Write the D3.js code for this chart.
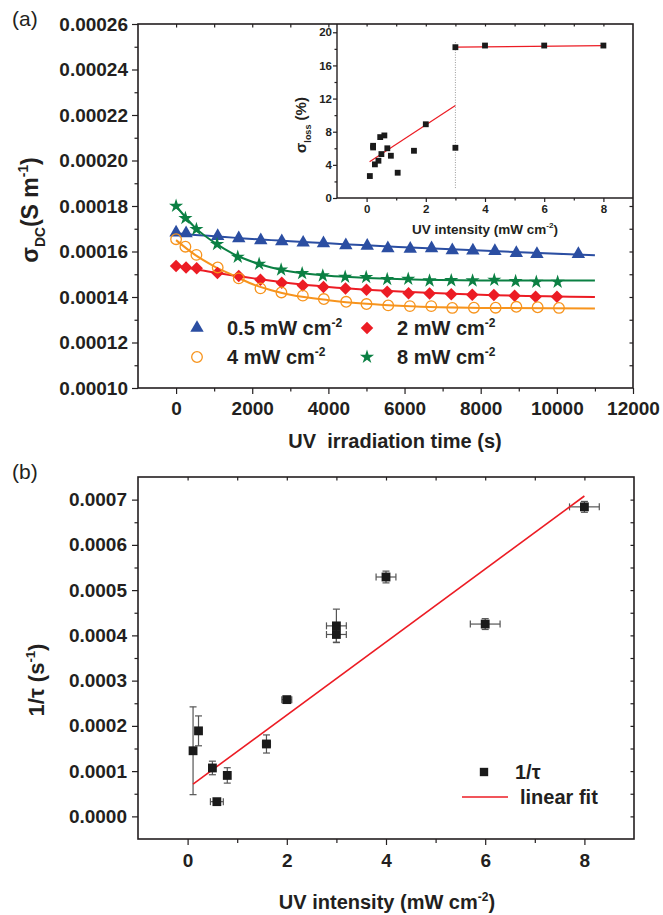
<!DOCTYPE html>
<html>
<head>
<meta charset="utf-8">
<script src="https://cdn.jsdelivr.net/npm/d3@7"></script>
<style>body{margin:0;background:#fff}</style>
</head>
<body>
<div id="chart"></div>
<script>
// ---- panel (a): sigma_DC vs irradiation time ----
var tBlue = [0, 263, 1093, 1646, 2224, 2776, 3338, 3871, 4458, 5020, 5562, 6150, 6710, 7254, 7795, 8373, 8936, 9477, 10565];
var vBlue = [1.683e-4, 1.680e-4, 1.668e-4, 1.658e-4, 1.649e-4, 1.645e-4, 1.639e-4, 1.636e-4, 1.627e-4, 1.625e-4, 1.614e-4, 1.612e-4, 1.614e-4, 1.605e-4, 1.604e-4, 1.602e-4, 1.593e-4, 1.589e-4, 1.589e-4];
var tRed = [0, 263, 542, 1086, 1646, 2216, 2776, 3329, 3871, 4449, 5001, 5545, 6105, 6657, 7227, 7779, 8347, 8891, 9443, 10003];
var vRed = [1.536e-4, 1.530e-4, 1.526e-4, 1.505e-4, 1.492e-4, 1.476e-4, 1.463e-4, 1.451e-4, 1.444e-4, 1.437e-4, 1.432e-4, 1.423e-4, 1.416e-4, 1.415e-4, 1.412e-4, 1.410e-4, 1.409e-4, 1.406e-4, 1.401e-4, 1.401e-4];
var tOrange = [0, 245, 534, 1093, 1646, 2216, 2767, 3329, 3880, 4467, 5001, 5571, 6140, 6702, 7254, 7822, 8392, 8936, 9496, 10056];
var vOrange = [1.654e-4, 1.621e-4, 1.585e-4, 1.530e-4, 1.482e-4, 1.438e-4, 1.420e-4, 1.406e-4, 1.391e-4, 1.379e-4, 1.369e-4, 1.363e-4, 1.360e-4, 1.360e-4, 1.352e-4, 1.353e-4, 1.353e-4, 1.357e-4, 1.355e-4, 1.352e-4];
var tGreen = [0, 245, 534, 1077, 1620, 2181, 2759, 3311, 3853, 4441, 4993, 5545, 6097, 6657, 7227, 7787, 8357, 8917, 9461, 10021];
var vGreen = [1.800e-4, 1.746e-4, 1.698e-4, 1.632e-4, 1.576e-4, 1.545e-4, 1.520e-4, 1.504e-4, 1.494e-4, 1.488e-4, 1.487e-4, 1.478e-4, 1.479e-4, 1.472e-4, 1.473e-4, 1.472e-4, 1.475e-4, 1.469e-4, 1.466e-4, 1.466e-4];

// fitted curves
var tFit = [0, 500, 1000, 1500, 2000, 2500, 3000, 4000, 5000, 6000, 8000, 11000];
var fitBlue = [1.680e-4, 1.673e-4, 1.667e-4, 1.661e-4, 1.655e-4, 1.650e-4, 1.645e-4, 1.636e-4, 1.627e-4, 1.619e-4, 1.604e-4, 1.583e-4];
var fitRed = [1.538e-4, 1.522e-4, 1.508e-4, 1.495e-4, 1.483e-4, 1.471e-4, 1.460e-4, 1.444e-4, 1.432e-4, 1.423e-4, 1.410e-4, 1.400e-4];
var fitOrange = [1.650e-4, 1.585e-4, 1.535e-4, 1.495e-4, 1.457e-4, 1.430e-4, 1.410e-4, 1.386e-4, 1.370e-4, 1.360e-4, 1.352e-4, 1.350e-4];
var fitGreen = [1.800e-4, 1.705e-4, 1.640e-4, 1.590e-4, 1.555e-4, 1.530e-4, 1.512e-4, 1.493e-4, 1.484e-4, 1.478e-4, 1.473e-4, 1.472e-4];

var legendA = ["0.5 mW cm", "2 mW cm", "4 mW cm", "8 mW cm"];

// ---- inset: sigma_loss vs UV intensity ----
var inX = [0.11, 0.22, 0.22, 0.28, 0.4, 0.46, 0.5, 0.6, 0.7, 0.82, 1.05, 1.6, 2.0, 3.0, 3.0, 4, 6, 8];
var inY = [2.65, 6.3, 6.1, 4.06, 4.5, 7.35, 5.3, 7.55, 6.0, 5.1, 3.05, 5.7, 8.9, 6.06, 18.2, 18.4, 18.4, 18.4];
var inFit1 = [[0.1, 4.37], [3, 11.17]];
var inFit2 = [[3, 18.2], [8, 18.4]];
var inDot = [[3, 1.2], [3, 18.8]];

// ---- panel (b): 1/tau vs UV intensity ----
var bX = [0.11, 0.22, 0.5, 0.59, 0.8, 1.59, 2.0, 3.0, 3.0, 4.0, 6.0, 8.0];
var bY = [0.000145, 0.000189, 0.000107, 0.0000325, 0.0000905, 0.00016, 0.000258, 0.000421, 0.000402, 0.000529, 0.000425, 0.000684];
var bYerr = [0.000097, 0.000033, 0.000015, 0, 0.000017, 0.00002, 0.000005, 0.000037, 0.000017, 0.000013, 0.000012, 0.000012];
var bXerr = [0, 0, 0.05, 0.13, 0.05, 0.08, 0.1, 0.2, 0.2, 0.2, 0.3, 0.3];
var bFit = [[0.11, 0.0000715], [8, 0.000708]];

var FONT = "Liberation Sans, Arial, Helvetica, sans-serif";
var ink = "#231f20";
var cBlue = "#2b4ea2", cRed = "#ec1c24", cOrange = "#f7941d", cGreen = "#0b8043";

var svg = d3.select("#chart").append("svg")
    .attr("width", 663)
    .attr("height", 915)
    .style("font-family", FONT);

function rich(t, parts, fs) {
    var shift = 0;
    parts.forEach(function (p) {
        var target = p[1] === "sup" ? -0.42 * fs : p[1] === "sub" ? 0.3 * fs : 0;
        t.append("tspan")
            .attr("dy", target - shift)
            .attr("font-size", p[1] ? fs * 0.6 : fs)
            .text(p[0]);
        shift = target;
    });
}

function styleAxis(g, fs) {
    g.select(".domain").remove();
    g.selectAll(".tick line").attr("stroke", ink).attr("stroke-width", 1.2);
    g.selectAll(".tick text")
        .attr("fill", ink)
        .attr("font-family", FONT)
        .attr("font-weight", "bold")
        .attr("font-size", fs);
}

function addAxis(gen, tx, ty, fs) {
    var g = svg.append("g").attr("transform", "translate(" + tx + "," + ty + ")").call(gen);
    styleAxis(g, fs);
    return g;
}

function frame(x0, y0, x1, y1) {
    svg.append("rect")
        .attr("x", x0).attr("y", y0)
        .attr("width", x1 - x0).attr("height", y1 - y0)
        .attr("fill", "none")
        .attr("stroke", ink)
        .attr("stroke-width", 1.6);
}

// ================= panel (a) =================
var ax = d3.scaleLinear().domain([-1000, 12000]).range([138, 633]);
var ay = d3.scaleLinear().domain([0.00010, 0.00026]).range([388, 24]);

addAxis(d3.axisBottom(ax).tickValues(d3.range(0, 12001, 2000)).tickSize(6).tickPadding(8).tickFormat(d3.format("d")), 0, 388, 19);
addAxis(d3.axisBottom(ax).tickValues(d3.range(1000, 12000, 2000)).tickSize(3.5).tickFormat(""), 0, 388, 19);
addAxis(d3.axisLeft(ay).tickValues(d3.range(10, 27, 2).map(function (d) { return d * 1e-5; })).tickSize(6).tickPadding(4).tickFormat(d3.format(".5f")), 138, 0, 19);
addAxis(d3.axisLeft(ay).tickValues(d3.range(11, 26, 2).map(function (d) { return d * 1e-5; })).tickSize(3.5).tickFormat(""), 138, 0, 19);
addAxis(d3.axisTop(ax).tickValues(d3.range(0, 5000, 1000)).tickSize(-3.5).tickFormat(""), 0, 24, 19);
addAxis(d3.axisRight(ay).tickValues(d3.range(11, 26, 1).map(function (d) { return d * 1e-5; })).tickSize(-3.5).tickFormat(""), 633, 0, 19);

var lineA = d3.line().curve(d3.curveMonotoneX)
    .x(function (d) { return ax(d[0]); })
    .y(function (d) { return ay(d[1]); });

var seriesA = [
    { t: tBlue, v: vBlue, fit: fitBlue, color: cBlue, kind: "tri" },
    { t: tRed, v: vRed, fit: fitRed, color: cRed, kind: "dia" },
    { t: tOrange, v: vOrange, fit: fitOrange, color: cOrange, kind: "circ" },
    { t: tGreen, v: vGreen, fit: fitGreen, color: cGreen, kind: "star" }
];

function marker(g, kind, color, x, y) {
    if (kind === "circ") {
        g.append("circle").attr("cx", x).attr("cy", y).attr("r", 5.3)
            .attr("fill", "none").attr("stroke", color).attr("stroke-width", 1.3);
        return;
    }
    var type = kind === "tri" ? d3.symbolTriangle : kind === "dia" ? d3.symbolSquare : d3.symbolStar;
    var size = kind === "tri" ? 78 : kind === "dia" ? 78 : 62;
    var rot = kind === "dia" ? " rotate(45)" : "";
    g.append("path")
        .attr("d", d3.symbol().type(type).size(size)())
        .attr("transform", "translate(" + x + "," + y + ")" + rot)
        .attr("fill", color);
}

seriesA.forEach(function (s) {
    svg.append("path")
        .attr("d", lineA(tFit.map(function (t, i) { return [t, s.fit[i]]; })))
        .attr("fill", "none")
        .attr("stroke", s.color)
        .attr("stroke-width", 2);
});
seriesA.forEach(function (s) {
    var g = svg.append("g");
    s.t.forEach(function (t, i) { marker(g, s.kind, s.color, ax(t), ay(s.v[i])); });
});

// legend (a)
var legPos = [[197, 328], [367, 328], [197, 357], [367, 357]];
seriesA.forEach(function (s, i) {
    var g = svg.append("g");
    marker(g, s.kind, s.color, legPos[i][0], legPos[i][1]);
    var t = svg.append("text")
        .attr("x", legPos[i][0] + 30)
        .attr("y", legPos[i][1] + 7)
        .attr("font-weight", "bold")
        .attr("fill", ink);
    rich(t, [[legendA[i], ""], ["-2", "sup"]], 20);
});

// ================= inset =================
var ix = d3.scaleLinear().domain([-1, 9]).range([337, 633]);
var iy = d3.scaleLinear().domain([0, 21]).range([198, 24]);

svg.append("rect").attr("x", 337).attr("y", 24).attr("width", 296).attr("height", 174).attr("fill", "#fff");
addAxis(d3.axisBottom(ix).tickValues([0, 2, 4, 6, 8]).tickSize(4).tickPadding(3).tickFormat(d3.format("d")), 0, 198, 11.5);
addAxis(d3.axisBottom(ix).tickValues([1, 3, 5, 7]).tickSize(2.5).tickFormat(""), 0, 198, 11.5);
addAxis(d3.axisLeft(iy).tickValues([0, 4, 8, 12, 16, 20]).tickSize(4).tickPadding(1).tickFormat(d3.format("d")), 337, 0, 11.5);
addAxis(d3.axisLeft(iy).tickValues([2, 6, 10, 14, 18]).tickSize(2.5).tickFormat(""), 337, 0, 11.5);
addAxis(d3.axisTop(ix).tickValues(d3.range(0, 9, 1)).tickSize(-2.5).tickFormat(""), 0, 24, 11.5);

var lineI = d3.line()
    .x(function (d) { return ix(d[0]); })
    .y(function (d) { return iy(d[1]); });

svg.append("path").attr("d", lineI(inDot)).attr("fill", "none")
    .attr("stroke", "#999").attr("stroke-width", 1).attr("stroke-dasharray", "1,1.5");
[inFit1, inFit2].forEach(function (f) {
    svg.append("path").attr("d", lineI(f)).attr("fill", "none")
        .attr("stroke", cRed).attr("stroke-width", 1.2);
});
svg.append("g").selectAll("path").data(inX).join("path")
    .attr("d", d3.symbol().type(d3.symbolSquare).size(34)())
    .attr("transform", function (d, i) { return "translate(" + ix(d) + "," + iy(inY[i]) + ")"; })
    .attr("fill", "#1a1a1a");

svg.append("line").attr("x1", 337).attr("x2", 337).attr("y1", 24).attr("y2", 198)
    .attr("stroke", ink).attr("stroke-width", 1.4);
svg.append("line").attr("x1", 337).attr("x2", 633).attr("y1", 198).attr("y2", 198)
    .attr("stroke", ink).attr("stroke-width", 1.4);

var itx = svg.append("text").attr("x", 485).attr("y", 234).attr("text-anchor", "middle")
    .attr("font-weight", "bold").attr("fill", ink);
rich(itx, [["UV intensity (mW cm", ""], ["-2", "sup"], [")", ""]], 13.5);
var ity = svg.append("text").attr("transform", "translate(306,125) rotate(-90)")
    .attr("text-anchor", "middle").attr("font-weight", "bold").attr("fill", ink);
rich(ity, [["σ", ""], ["loss", "sub"], [" (%)", ""]], 15);

frame(138, 24, 633, 388);

// titles (a)
svg.append("text").attr("x", 12).attr("y", 26).attr("font-size", 21).attr("fill", ink).text("(a)");
var atx = svg.append("text").attr("x", 395).attr("y", 448).attr("text-anchor", "middle")
    .attr("font-weight", "bold").attr("font-size", 20).attr("fill", ink)
    .attr("xml:space", "preserve").text("UV  irradiation time (s)");
var aty = svg.append("text").attr("transform", "translate(38,210) rotate(-90)")
    .attr("text-anchor", "middle").attr("font-weight", "bold").attr("fill", ink);
rich(aty, [["σ", ""], ["DC", "sub"], ["(S m", ""], ["-1", "sup"], [")", ""]], 23);

// ================= panel (b) =================
var bx = d3.scaleLinear().domain([-1, 9]).range([138, 634]);
var by = d3.scaleLinear().domain([-0.00005, 0.00075]).range([839, 477]);

addAxis(d3.axisBottom(bx).tickValues([0, 2, 4, 6, 8]).tickSize(6).tickPadding(9).tickFormat(d3.format("d")), 0, 839, 19);
addAxis(d3.axisBottom(bx).tickValues([1, 3, 5, 7]).tickSize(4).tickFormat(""), 0, 839, 19);
addAxis(d3.axisLeft(by).tickValues(d3.range(0, 8, 1).map(function (d) { return d * 1e-4; })).tickSize(6).tickPadding(5).tickFormat(d3.format(".4f")), 138, 0, 19);
addAxis(d3.axisLeft(by).tickValues(d3.range(0.5, 7, 1).map(function (d) { return d * 1e-4; })).tickSize(3.5).tickFormat(""), 138, 0, 19);
addAxis(d3.axisTop(bx).tickValues(d3.range(0, 9, 1)).tickSize(-3.5).tickFormat(""), 0, 477, 19);
addAxis(d3.axisRight(by).tickValues(d3.range(0, 15, 1).map(function (d) { return d * 0.5e-4; })).tickSize(-3.5).tickFormat(""), 634, 0, 19);

var lineB = d3.line()
    .x(function (d) { return bx(d[0]); })
    .y(function (d) { return by(d[1]); });

// error bars
var eg = svg.append("g").attr("stroke", "#555").attr("stroke-width", 1.2).attr("fill", "none");
bX.forEach(function (x, i) {
    var cx = bx(x), cy = by(bY[i]);
    if (bYerr[i] > 0) {
        var y1 = by(bY[i] + bYerr[i]), y2 = by(bY[i] - bYerr[i]);
        eg.append("line").attr("x1", cx).attr("x2", cx).attr("y1", y1).attr("y2", y2);
        eg.append("line").attr("x1", cx - 3.5).attr("x2", cx + 3.5).attr("y1", y1).attr("y2", y1);
        eg.append("line").attr("x1", cx - 3.5).attr("x2", cx + 3.5).attr("y1", y2).attr("y2", y2);
    }
    if (bXerr[i] > 0) {
        var x1 = bx(x - bXerr[i]), x2 = bx(x + bXerr[i]);
        eg.append("line").attr("x1", x1).attr("x2", x2).attr("y1", cy).attr("y2", cy);
        eg.append("line").attr("x1", x1).attr("x2", x1).attr("y1", cy - 3.5).attr("y2", cy + 3.5);
        eg.append("line").attr("x1", x2).attr("x2", x2).attr("y1", cy - 3.5).attr("y2", cy + 3.5);
    }
});

svg.append("path").attr("d", lineB(bFit)).attr("fill", "none")
    .attr("stroke", cRed).attr("stroke-width", 1.6);

svg.append("g").selectAll("path").data(bX).join("path")
    .attr("d", d3.symbol().type(d3.symbolSquare).size(78)())
    .attr("transform", function (d, i) { return "translate(" + bx(d) + "," + by(bY[i]) + ")"; })
    .attr("fill", "#1a1a1a");

// legend (b)
svg.append("path").attr("d", d3.symbol().type(d3.symbolSquare).size(70)())
    .attr("transform", "translate(484,772)").attr("fill", "#1a1a1a");
svg.append("text").attr("x", 515).attr("y", 779).attr("font-weight", "bold")
    .attr("font-size", 20).attr("fill", ink).text("1/τ");
svg.append("line").attr("x1", 462).attr("x2", 508).attr("y1", 797).attr("y2", 797)
    .attr("stroke", cRed).attr("stroke-width", 1.6);
svg.append("text").attr("x", 520).attr("y", 804).attr("font-weight", "bold")
    .attr("font-size", 20).attr("fill", ink).text("linear fit");

frame(138, 477, 634, 839);

svg.append("text").attr("x", 12).attr("y", 479).attr("font-size", 21).attr("fill", ink).text("(b)");
var btx = svg.append("text").attr("x", 387).attr("y", 909).attr("text-anchor", "middle")
    .attr("font-weight", "bold").attr("fill", ink);
rich(btx, [["UV intensity (mW cm", ""], ["-2", "sup"], [")", ""]], 20);
var bty = svg.append("text").attr("transform", "translate(44,680) rotate(-90)")
    .attr("text-anchor", "middle").attr("font-weight", "bold").attr("fill", ink);
rich(bty, [["1/τ (s", ""], ["-1", "sup"], [")", ""]], 22);
</script>
</body>
</html>
